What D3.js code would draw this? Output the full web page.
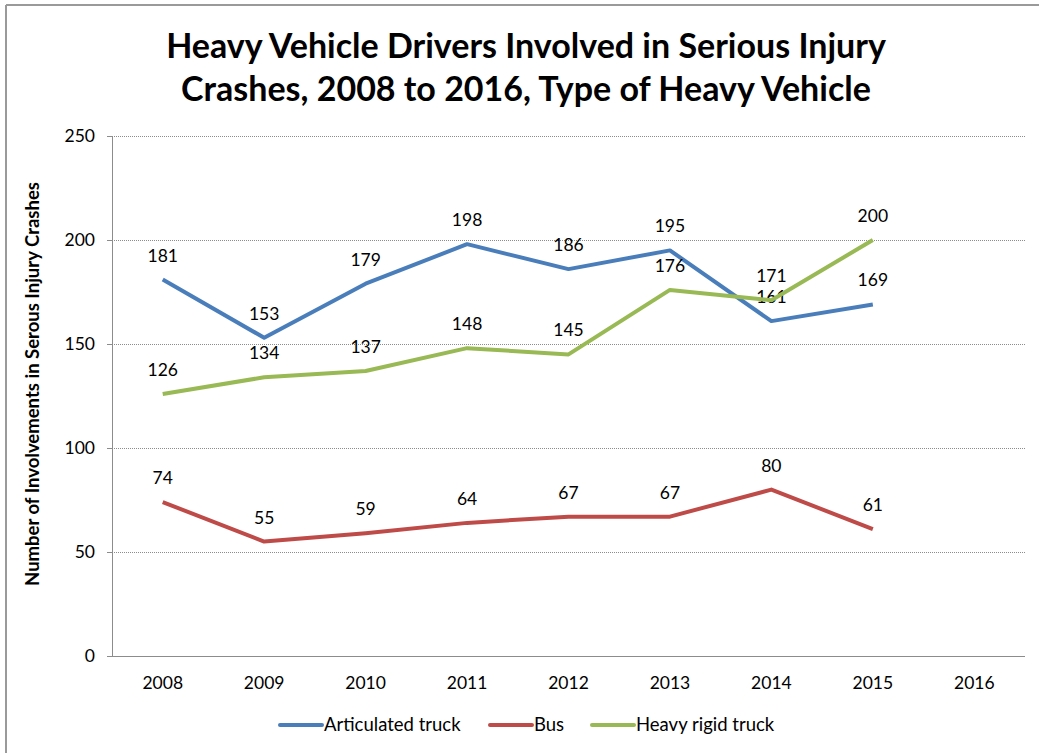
<!DOCTYPE html>
<html>
<head>
<meta charset="utf-8">
<script src="https://cdn.jsdelivr.net/npm/d3@7"></script>
<style>
  body { margin: 0; background: #fff; }
  text { font-family: Lato, "Open Sans", sans-serif; fill: #000; }
</style>
</head>
<body>
<div id="chart"></div>
<script>
var years = ['2008', '2009', '2010', '2011', '2012', '2013', '2014', '2015', '2016']
var articulated = [181, 153, 179, 198, 186, 195, 161, 169]
var bus = [74, 55, 59, 64, 67, 67, 80, 61]
var rigid = [126, 134, 137, 148, 145, 176, 171, 200]
var seriesNames = ['Articulated truck', 'Bus', 'Heavy rigid truck']
var seriesColors = ['#4a7ebb', '#be4b48', '#98b954']
var yTicks = [0, 50, 100, 150, 200, 250]

var width = 1039, height = 753
var margin = { left: 112, right: 14, top: 136, bottom: 97 }

var svg = d3.select('#chart').append('svg')
    .attr('width', width)
    .attr('height', height)

// outer frame (top + left only visible)
svg.append('line').attr('x1', 6).attr('x2', width).attr('y1', 5).attr('y2', 5)
    .style('stroke', '#9a9a9a').style('stroke-width', 2)
svg.append('line').attr('x1', 6).attr('x2', 6).attr('y1', 5).attr('y2', height)
    .style('stroke', '#9a9a9a').style('stroke-width', 2)

var x = d3.scaleBand()
    .domain(years)
    .range([margin.left, width - margin.right])

var y = d3.scaleLinear()
    .domain([0, 250])
    .range([height - margin.bottom, margin.top])

// title
var title = svg.append('text')
    .attr('text-anchor', 'middle')
    .style('font-size', '34px')
    .style('font-weight', 'bold')
title.append('tspan').attr('x', 526).attr('y', 58).text('Heavy Vehicle Drivers Involved in Serious Injury')
title.append('tspan').attr('x', 526).attr('y', 101).text('Crashes, 2008 to 2016, Type of Heavy Vehicle')

// gridlines
svg.append('g').selectAll('line')
    .data(yTicks.filter(function (d) { return d > 0 }))
    .enter()
    .append('line')
    .attr('x1', margin.left).attr('x2', width - margin.right)
    .attr('y1', function (d) { return y(d) + 0.5 })
    .attr('y2', function (d) { return y(d) + 0.5 })
    .style('stroke', '#8c8c8c')
    .style('stroke-dasharray', '1,1')

// y axis
var yAxis = svg.append('g')
    .attr('transform', 'translate(' + margin.left + ',0)')
    .call(d3.axisLeft(y).tickValues(yTicks).tickSize(5).tickPadding(12))
yAxis.select('.domain').style('stroke', '#8c8c8c')
yAxis.selectAll('line').style('stroke', '#8c8c8c')
yAxis.selectAll('text').style('font-size', '17.5px').style('font-family', 'Lato, sans-serif')

// x axis
var xAxis = svg.append('g')
    .attr('transform', 'translate(0,' + y(0) + ')')
    .call(d3.axisBottom(x).tickSize(0).tickPadding(21).tickSizeOuter(0))
xAxis.select('.domain').attr('d', 'M' + (margin.left - 5) + ',0.5H' + (width - margin.right))
    .style('stroke', '#8c8c8c')
xAxis.selectAll('text').style('font-size', '17.5px').style('font-family', 'Lato, sans-serif')

// y axis title
svg.append('text')
    .attr('transform', 'translate(39,384) rotate(-90)')
    .attr('text-anchor', 'middle')
    .style('font-size', '18.5px')
    .style('font-weight', 'bold')
    .text('Number of Involvements in Serous Injury Crashes')

var allSeries = [articulated, bus, rigid]
var line = d3.line()
    .x(function (d, i) { return x(years[i]) + x.bandwidth() / 2 })
    .y(function (d) { return y(d) })

var groups = svg.append('g')
allSeries.forEach(function (vals, s) {
    groups.append('path')
        .datum(vals)
        .attr('d', line)
        .style('fill', 'none')
        .style('stroke', seriesColors[s])
        .style('stroke-width', 4)
        .style('stroke-linejoin', 'round')

    groups.append('g').selectAll('text')
        .data(vals)
        .enter()
        .append('text')
        .attr('x', function (d, i) { return x(years[i]) + x.bandwidth() / 2 })
        .attr('y', function (d) { return y(d) - 18 })
        .attr('text-anchor', 'middle')
        .style('font-size', '17.5px')
        .text(function (d) { return d })
})

// legend
var legendX = [280, 490, 592]
var legend = svg.append('g')
seriesNames.forEach(function (name, i) {
    legend.append('line')
        .attr('x1', legendX[i]).attr('x2', legendX[i] + 42)
        .attr('y1', 725).attr('y2', 725)
        .style('stroke', seriesColors[i])
        .style('stroke-width', 4)
        .style('stroke-linecap', 'round')
    legend.append('text')
        .attr('x', legendX[i] + 44)
        .attr('y', 731)
        .style('font-size', '18.5px')
        .text(name)
})
</script>
</body>
</html>
